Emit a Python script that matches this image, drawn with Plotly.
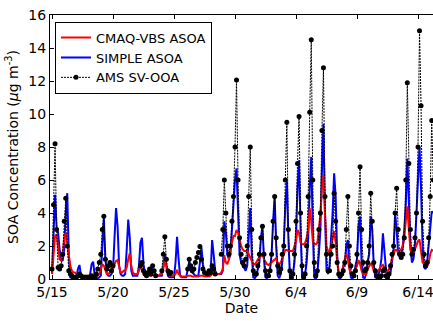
import pandas as pd
import plotly.graph_objects as go

N = None
# 3-hourly values starting 2010-05-15 00:00 (8 per day)
simple_asoa = [
    0.3, 3.0, 5.1, 3.2, 2.8, 1.8, 1.2, 1.1,
    1.8, 4.0, 5.2, 1.5, 0.1, 0.05, 0.05, 0.05,
    0.1, 0.6, 0.85, 0.2, 0.05, 0.05, 0.05, 0.05,
    0.05, 0.3, 0.9, 1.05, 0.2, 0.05, 0.05, 0.1,
    0.2, 2.0, 3.7, 1.2, 0.3, 0.2, 0.2, 0.3,
    0.5, 2.5, 4.3, 3.2, 0.8, 0.3, 0.2, 0.2,
    0.3, 1.8, 3.6, 2.5, 0.5, 0.2, 0.2, 0.2,
    0.2, 0.8, 2.2, 2.5, 0.9, 0.3, 0.2, 0.2,
    0.3, 0.5, 0.6, 0.4, 0.3, 0.2, 0.2, 0.2,
    0.2, 0.8, 1.5, 0.8, 0.2, 0.1, 0.1, 0.1,
    0.1, 1.0, 2.55, 1.2, 0.2, 0.1, 0.1, 0.1,
    0.1, 0.6, 1.05, 0.5, 0.4, 0.3, 0.2, 0.2,
    0.2, 1.0, 1.9, 0.9, 0.3, 0.2, 0.2, 0.2,
    0.3, 2.36, 1.5, 0.5, 0.3, 0.3, 0.3, 0.3,
    0.5, 3.5, 2.8, 1.5, 1.2, 1.5, 3.0, 4.5,
    6.0, 6.7, 3.5, 1.5, 1.0, 0.8, 0.6, 0.5,
    0.8, 2.5, 4.3, 1.5, 0.1, 0.05, 0.2, 0.6,
    1.0, 2.5, 3.2, 1.2, 0.1, 0.05, 0.2, 0.6,
    1.5, 3.5, 5.0, 2.0, 0.2, 0.05, 0.3, 1.0,
    2.0, 4.5, 5.9, 2.5, 0.2, 0.05, 0.3, 1.0,
    2.5, 5.5, 7.2, 3.0, 0.1, 0.0, 0.3, 1.0,
    2.5, 5.5, 7.4, 3.0, 0.1, 0.0, 0.3, 1.5,
    3.0, 6.5, 9.4, 4.0, 0.6, 0.3, 0.8, 2.5,
    4.0, 6.4, 5.0, 1.5, 0.1, 0.0, 0.3, 0.8,
    0.8, 2.0, 2.36, 0.8, 0.1, 0.0, 0.2, 0.8,
    1.2, 3.2, 3.8, 1.0, 0.1, 0.05, 0.3, 1.0,
    1.5, 3.8, 3.0, 0.8, 0.1, 0.05, 0.2, 0.6,
    1.2, 2.77, 1.8, 0.6, 0.3, 0.2, 0.4, 1.0,
    1.8, 4.0, 3.0, 1.5, 1.35, 1.5, 2.0, 3.0,
    4.5, 7.3, 5.0, 2.0, 1.0, 1.2, 2.0, 4.0,
    6.0, 8.0, 5.5, 2.0, 0.7, 0.6, 1.0, 2.0,
    3.0, 4.1, 4.0,
]
cmaq_vbs_asoa = [
    0.3, 1.5, 2.6, 2.7, 2.0, 1.2, 1.1, 1.5,
    2.5, 2.8, 2.2, 1.3, 0.8, 0.5, 0.4, 0.4,
    0.3, 0.3, 0.4, 0.3, 0.2, 0.2, 0.2, 0.2,
    0.2, 0.2, 0.25, 0.2, 0.15, 0.15, 0.2, 0.3,
    0.6, 0.9, 0.8, 0.5, 0.3, 0.3, 0.4, 0.6,
    0.6, 0.9, 1.1, 1.15, 0.7, 0.4, 0.4, 0.5,
    0.5, 0.7, 1.2, 1.56, 0.8, 0.4, 0.3, 0.3,
    0.3, 0.5, 0.7, 0.6, 0.3, 0.2, 0.2, 0.2,
    0.2, 0.2, 0.25, 0.2, 0.2, 0.2, 0.2, 0.3,
    0.3, 0.6, 1.25, 0.8, 0.3, 0.2, 0.2, 0.2,
    0.2, 0.3, 0.55, 0.3, 0.2, 0.15, 0.15, 0.15,
    0.15, 0.2, 0.2, 0.2, 0.15, 0.15, 0.15, 0.15,
    0.15, 0.2, 0.2, 0.2, 0.15, 0.15, 0.15, 0.15,
    0.2, 0.3, 0.55, 0.4, 0.3, 0.3, 0.3, 0.4,
    0.6, 1.45, 1.0, 0.9, 1.2, 1.8, 2.2, 2.6,
    2.6, 2.97, 2.8, 2.4, 2.0, 1.8, 1.7, 1.7,
    1.76, 1.5, 1.3, 1.0, 0.9, 0.9, 1.0, 1.2,
    1.3, 1.4, 1.5, 1.2, 1.0, 0.9, 0.85, 0.9,
    1.0, 1.1, 1.2, 1.25, 1.0, 0.9, 1.0, 1.3,
    1.6, 1.76, 1.76, 1.7, 1.7, 1.7, 1.7, 2.0,
    2.3, 2.97, 2.8, 2.2, 2.1, 2.1, 2.2, 2.5,
    3.0, 4.3, 3.5, 2.3, 2.1, 2.1, 2.2, 3.0,
    4.0, 5.5, 6.3, 4.0, 2.0, 1.7, 1.6, 2.0,
    2.4, 2.9, 2.2, 1.0, 0.4, 0.35, 0.4, 0.8,
    1.2, 1.56, 1.2, 0.6, 0.3, 0.3, 0.3, 0.6,
    0.8, 1.15, 0.9, 0.5, 0.3, 0.3, 0.3, 0.6,
    0.8, 0.95, 0.8, 0.5, 0.4, 0.4, 0.5, 0.7,
    0.8, 0.85, 0.6, 0.45, 0.45, 0.6, 0.9, 1.3,
    1.5, 1.76, 1.76, 1.6, 1.7, 1.8, 2.0, 2.5,
    3.5, 4.4, 3.0, 1.8, 1.56, 1.6, 1.8, 2.1,
    2.3, 2.4, 1.8, 1.0, 0.95, 0.8, 0.75, 1.0,
    1.5, 1.76, 1.7,
]
ams_sv_ooa = [
    0.6, 4.5, 8.2, 3.0, 0.7, 0.6, 0.8, 1.5,
    3.5, 4.9, 2.0, 0.5, 0.3, 0.2, 0.1, 0.1,
    0.1, 0.2, 0.3, 0.2, 0.1, 0.1, 0.1, 0.1,
    0.1, 0.1, 0.2, 0.1, 0.1, 0.3, 0.6, 1.0,
    1.5, 3.0, 3.8, 1.2, 0.6, 0.8, 1.0, 0.5,
    0.8, N, N, N, N, N, N, N,
    N, N, N, N, N, N, N, N,
    N, N, 0.8, 1.0, 0.5, 0.3, 0.2, 0.4,
    0.6, 0.3, 0.8, 0.5, 0.2, N, N, N,
    0.5, 1.5, 2.56, 1.2, 0.5, 0.3, 0.4, N,
    N, N, N, N, N, N, N, N,
    N, 0.6, 1.2, 0.8, 0.5, 0.6, 1.0, 1.3,
    1.6, 1.97, 1.2, 0.6, 0.4, N, 0.3, 0.5,
    0.4, 0.8, 0.6, 0.3, N, N, N, 1.5,
    3.0, 6.0, 4.0, 2.0, 1.5, 2.0, 3.5, 5.0,
    8.0, 12.06, 6.0, 2.5, 1.5, 1.0, 0.8, 1.2,
    2.0, 5.0, 8.0, 3.0, 0.5, 0.3, 0.3, 0.8,
    1.5, 2.5, 3.2, 1.5, 0.5, 0.2, 0.2, 0.5,
    1.5, 3.5, 5.0, 2.5, 0.8, 0.4, 0.6, 1.5,
    2.0, 6.0, 9.5, 3.0, 0.5, 0.1, 0.3, 1.5,
    3.5, 7.0, 9.85, 4.0, 0.8, 0.1, 0.3, 2.0,
    5.0, 10.1, 14.5, 6.0, 1.0, 0.2, 0.5, 3.0,
    4.0, 9.0, 12.8, 5.0, 1.5, 0.5, 0.5, 1.5,
    2.0, 5.2, 3.5, 1.0, 0.3, 0.2, 0.3, 0.5,
    1.0, 3.0, 5.0, 2.0, 0.8, 0.3, 0.2, 0.5,
    1.5, 4.0, 6.8, 3.0, 1.0, 0.5, 0.6, 1.0,
    2.0, 5.2, 3.5, 1.0, 0.5, 0.2, 0.1, 0.1,
    0.2, 0.5, 0.6, 0.2, 0.1, 0.3, 0.8, 1.5,
    2.0, 4.0, 5.5, 3.0, 1.5, 1.3, 1.5, 2.5,
    6.0, 11.9, 7.0, 3.0, 1.5, 1.8, 2.5, 4.0,
    8.0, 15.05, 10.5, 3.5, 1.5, 0.8, 1.0, 2.5,
    5.0, 9.6, 6.0,
]

tick_dates = ["2010-05-15", "2010-05-20", "2010-05-25", "2010-05-30",
              "2010-06-04", "2010-06-09", "2010-06-14"]
tick_labels = ["5/15", "5/20", "5/25", "5/30", "6/4", "6/9", "6/14"]
y_ticks = [0, 2, 4, 6, 8, 10, 12, 14, 16]

times = pd.date_range("2010-05-15 00:00", periods=len(simple_asoa), freq="3h")

FONT = "DejaVu Sans"
fig = go.Figure()
fig.add_trace(go.Scatter(x=times, y=simple_asoa, mode="lines", name="SIMPLE ASOA",
                         line=dict(color="#0000ff", width=2), legendrank=2))
fig.add_trace(go.Scatter(x=times, y=cmaq_vbs_asoa, mode="lines", name="CMAQ-VBS ASOA",
                         line=dict(color="#ff0000", width=2), legendrank=1))
fig.add_trace(go.Scatter(x=times, y=ams_sv_ooa, mode="lines+markers", name="AMS SV-OOA",
                         line=dict(color="black", width=1, dash="2px,1px"),
                         marker=dict(color="black", size=5), legendrank=3))

fig.update_layout(
    width=433, height=321,
    margin=dict(l=50, r=0, t=15, b=42),
    paper_bgcolor="white", plot_bgcolor="white",
    font=dict(family=FONT, size=14, color="black"),
    showlegend=True,
    legend=dict(x=0.013, y=0.975, xanchor="left", yanchor="top",
                bgcolor="white", bordercolor="black", borderwidth=1,
                font=dict(size=13, family=FONT), tracegroupgap=0,
                itemwidth=30),
)
fig.update_xaxes(
    range=["2010-05-14 20:04", "2010-06-15 05:31"],
    tickvals=tick_dates, ticktext=tick_labels,
    ticks="inside", ticklen=4, tickcolor="black",
    showline=True, linecolor="black", linewidth=1, mirror="ticks",
    showgrid=False, zeroline=False,
    tickfont=dict(size=14), ticklabeloverflow="allow",
    title=dict(text="Date", font=dict(size=14), standoff=4),
)
fig.update_yaxes(
    range=[0, 16], tickvals=y_ticks,
    ticks="inside", ticklen=4, tickcolor="black",
    showline=True, linecolor="black", linewidth=1, mirror=False,
    showgrid=False, zeroline=False,
    tickfont=dict(size=14),
    title=dict(text="SOA Concentration (<i>μ</i>g m<sup>-3</sup>)", font=dict(size=14), standoff=6),
)

fig.write_html("out.html")
